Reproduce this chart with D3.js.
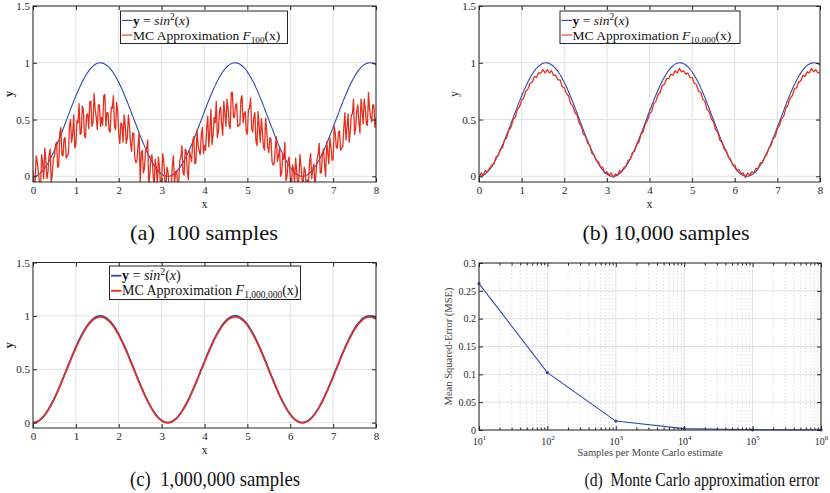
<!DOCTYPE html>
<html>
<head>
<meta charset="utf-8">
<script src="https://cdn.jsdelivr.net/npm/d3@7"></script>
<style>
  body { margin: 0; background: #fff; }
  svg { display: block; }
  text { font-family: "Liberation Serif", "Times New Roman", serif; }
</style>
</head>
<body>
<svg id="svg" width="830" height="493"></svg>
<script>
let xTicks = [0, 1, 2, 3, 4, 5, 6, 7, 8];
let yTicks = [0, 0.5, 1, 1.5];

// y = sin^2(x), read at x = 0, 0.05, ..., 8
let sinSq = [0, .003, .010, .022, .040, .061, .087, .118, .152, .189, .230, .273, .319, .366, .415, .465, .515, .565, .614, .662,
  .708, .752, .794, .833, .869, .901, .929, .952, .971, .985, .995, 1.000, .999, .994, .983, .968, .948, .924, .896, .863,
  .827, .788, .745, .700, .654, .605, .556, .506, .456, .407, .358, .311, .266, .223, .183, .146, .112, .083, .057, .036,
  .020, .008, .002, .000, .003, .012, .025, .043, .065, .092, .123, .158, .196, .237, .281, .327, .374, .423, .473, .523,
  .573, .622, .670, .716, .760, .801, .839, .874, .906, .933, .956, .974, .988, .996, 1.000, .999, .992, .981, .965, .945,
  .920, .890, .857, .821, .781, .738, .693, .646, .597, .548, .498, .448, .399, .350, .303, .258, .216, .176, .140, .107,
  .078, .053, .033, .018, .007, .001, .000, .005, .014, .028, .046, .070, .097, .129, .164, .203, .244, .288, .335, .383,
  .432, .482, .531, .581, .630, .678, .723, .767, .808, .845, .880, .911, .937, .959, .977, .989, .997, 1.000, .998, .991, .979];

// MC approximation with 100 samples, read at x = 0, 0.025, ..., 8
let mc100 = [0.05, -0.10, -0.04, 0.18, 0.13, 0.03, -0.05, -0.12, 0.19, 0.12, -0.02, 0.25, 0.14, -0.02, 0.04, 0.19,
  0.24, -0.06, 0.02, 0.16, 0.18, 0.28, 0.30, 0.08, 0.09, 0.38, 0.43, 0.19, 0.18, 0.33, 0.34, 0.16,
  0.18, 0.20, 0.44, 0.50, 0.30, 0.37, 0.54, 0.25, 0.28, 0.49, 0.47, 0.64, 0.37, 0.38, 0.62, 0.59,
  0.36, 0.34, 0.54, 0.55, 0.42, 0.66, 0.66, 0.44, 0.47, 0.73, 0.59, 0.52, 0.41, 0.63, 0.63, 0.44,
  0.52, 0.45, 0.71, 0.72, 0.44, 0.56, 0.56, 0.40, 0.39, 0.61, 0.60, 0.71, 0.44, 0.41, 0.65, 0.58,
  0.37, 0.29, 0.47, 0.46, 0.30, 0.54, 0.46, 0.29, 0.34, 0.54, 0.45, 0.29, 0.22, 0.38, 0.38, 0.16,
  0.12, 0.14, 0.27, 0.38, -0.06, 0.21, 0.23, 0.03, 0.07, 0.23, 0.24, 0.32, -0.07, 0.02, 0.17, 0.19,
  0.03, -0.10, 0.15, 0.08, -0.07, 0.17, 0.08, -0.08, -0.03, 0.20, 0.13, -0.03, -0.09, 0.08, 0.04, -0.11,
  -0.06, -0.10, 0.10, 0.18, -0.07, 0.04, 0.05, -0.10, -0.05, 0.14, 0.17, 0.27, 0.03, 0.01, 0.24, 0.22,
  0.03, -0.03, 0.22, 0.18, 0.13, 0.31, 0.35, 0.11, 0.12, 0.41, 0.28, 0.22, 0.19, 0.36, 0.43, 0.20,
  0.27, 0.23, 0.42, 0.53, 0.26, 0.40, 0.59, 0.28, 0.36, 0.52, 0.47, 0.66, 0.34, 0.40, 0.58, 0.61,
  0.46, 0.36, 0.66, 0.56, 0.44, 0.68, 0.60, 0.45, 0.42, 0.74, 0.74, 0.52, 0.52, 0.63, 0.64, 0.44,
  0.45, 0.45, 0.68, 0.71, 0.47, 0.55, 0.57, 0.39, 0.37, 0.59, 0.60, 0.69, 0.42, 0.39, 0.52, 0.56,
  0.31, 0.27, 0.57, 0.44, 0.30, 0.51, 0.40, 0.26, 0.23, 0.51, 0.41, 0.26, 0.21, 0.34, 0.33, 0.13,
  0.10, 0.11, 0.25, 0.35, 0.13, 0.18, 0.25, 0.00, 0.03, 0.20, 0.15, 0.30, -0.04, 0.00, 0.14, 0.17,
  -0.01, -0.12, 0.10, 0.07, -0.06, 0.16, 0.05, -0.09, -0.03, 0.19, 0.09, -0.03, -0.07, 0.08, 0.05, -0.11,
  -0.03, -0.09, 0.12, 0.20, -0.02, 0.06, 0.11, -0.09, 0.02, 0.15, 0.19, 0.29, 0.03, 0.03, 0.20, 0.24,
  0.11, 0.00, 0.30, 0.21, 0.11, 0.34, 0.26, 0.14, 0.15, 0.44, 0.38, 0.25, 0.25, 0.39, 0.40, 0.23,
  0.25, 0.26, 0.43, 0.56, 0.32, 0.43, 0.55, 0.30, 0.39, 0.54, 0.55, 0.68, 0.37, 0.42, 0.57, 0.63,
  0.48, 0.38, 0.68, 0.58, 0.46, 0.68, 0.60, 0.46, 0.45, 0.74, 0.59, 0.52, 0.48, 0.63, 0.63, 0.43, 0.51];

// MC approximation with 10,000 samples, read at x = 0, 0.05, ..., 8
let mc10k = [-0.01, 0.03, 0.01, 0.05, 0.04, 0.07, 0.10, 0.11, 0.17, 0.18, 0.24, 0.25, 0.32, 0.34, 0.41, 0.43, 0.50, 0.52, 0.59, 0.61,
  0.67, 0.69, 0.75, 0.77, 0.82, 0.83, 0.88, 0.87, 0.91, 0.91, 0.94, 0.91, 0.94, 0.91, 0.93, 0.89, 0.89, 0.85, 0.85, 0.79,
  0.78, 0.73, 0.71, 0.64, 0.62, 0.56, 0.54, 0.47, 0.44, 0.37, 0.35, 0.29, 0.27, 0.20, 0.19, 0.14, 0.13, 0.08, 0.08, 0.03,
  0.04, 0.01, 0.03, -0.01, 0.02, 0.01, 0.05, 0.04, 0.08, 0.09, 0.14, 0.15, 0.21, 0.22, 0.28, 0.30, 0.37, 0.39, 0.46, 0.49,
  0.55, 0.57, 0.64, 0.66, 0.72, 0.74, 0.80, 0.81, 0.86, 0.86, 0.90, 0.89, 0.93, 0.91, 0.95, 0.92, 0.93, 0.90, 0.91, 0.87,
  0.87, 0.82, 0.81, 0.75, 0.74, 0.68, 0.66, 0.59, 0.57, 0.51, 0.48, 0.41, 0.39, 0.32, 0.30, 0.24, 0.23, 0.17, 0.15, 0.10,
  0.10, 0.05, 0.06, 0.02, 0.03, -0.01, 0.03, 0.01, 0.04, 0.03, 0.07, 0.07, 0.12, 0.12, 0.17, 0.19, 0.25, 0.27, 0.33, 0.35,
  0.42, 0.45, 0.51, 0.53, 0.60, 0.63, 0.69, 0.71, 0.77, 0.78, 0.83, 0.84, 0.89, 0.88, 0.92, 0.91, 0.95, 0.92, 0.94, 0.91, 0.92];

// MC approximation with 1,000,000 samples, read at x = 0, 0.05, ..., 8
let mc1m = [0, .003, .010, .022, .040, .060, .086, .117, .150, .187, .228, .270, .316, .362, .411, .460, .510, .559, .608, .655,
  .701, .744, .786, .825, .860, .892, .920, .942, .961, .975, .985, .990, .989, .984, .973, .958, .939, .915, .887, .854,
  .819, .780, .738, .693, .647, .599, .550, .501, .451, .403, .354, .308, .263, .221, .181, .145, .111, .082, .056, .036,
  .020, .008, .002, .000, .003, .012, .025, .043, .064, .091, .122, .156, .194, .235, .278, .324, .370, .419, .468, .518,
  .567, .616, .663, .709, .752, .793, .831, .865, .897, .924, .946, .964, .978, .986, .990, .989, .982, .971, .955, .936,
  .911, .881, .848, .813, .773, .731, .686, .640, .591, .543, .493, .444, .395, .347, .300, .255, .214, .174, .139, .106,
  .077, .052, .033, .018, .007, .001, .000, .005, .014, .028, .046, .069, .096, .128, .162, .201, .242, .285, .332, .379,
  .428, .477, .526, .575, .624, .671, .716, .759, .800, .837, .871, .902, .928, .949, .967, .979, .987, .990, .988, .981, .969];

// error plot
let sampleSizes = [1e1, 1e2, 1e3, 1e4, 1e5, 1e6];
let mseValues = [0.263, 0.103, 0.016, 0.0025, 0.0004, 0.0001];
let mseTicks = [0, 0.05, 0.1, 0.15, 0.2, 0.25, 0.3];

let captions = ["(a)  100 samples", "(b) 10,000 samples", "(c)  1,000,000 samples", "(d)  Monte Carlo approximation error"];
let subLabels = ["100", "10,000", "1,000,000"];

let blue = "#3049b0";
let red = "#e5301f";
let gridColor = "#e1e1e1";
let frameColor = "#262626";

let svg = d3.select("#svg");
svg.append("rect").attr("width", 830).attr("height", 493).attr("fill", "#fff");

// pair each value with its x position on an even grid from 0 to 8
function toPoints(arr) {
  let step = 8 / (arr.length - 1);
  return arr.map(function(v, i) { return [i * step, v]; });
}

function drawPanel(p) {
  let x = d3.scaleLinear().domain([0, 8]).range([p.x1, p.x2]);
  let y = d3.scaleLinear().domain([-0.05, 1.5]).range([p.y2, p.y1]);
  let g = svg.append("g");

  // grid
  g.selectAll(".gx").data(xTicks).enter().append("line")
    .attr("x1", d => x(d)).attr("x2", d => x(d)).attr("y1", p.y1).attr("y2", p.y2)
    .attr("stroke", gridColor).attr("stroke-width", 1);
  g.selectAll(".gy").data(yTicks).enter().append("line")
    .attr("x1", p.x1).attr("x2", p.x2).attr("y1", d => y(d)).attr("y2", d => y(d))
    .attr("stroke", gridColor).attr("stroke-width", 1);

  g.append("clipPath").attr("id", "clip" + p.id)
    .append("rect").attr("x", p.x1).attr("y", p.y1).attr("width", p.x2 - p.x1).attr("height", p.y2 - p.y1);

  let plot = g.append("g").attr("clip-path", "url(#clip" + p.id + ")");
  plot.append("path").attr("d", d3.line().x(d => x(d[0])).y(d => y(d[1])).curve(d3.curveMonotoneX)(toPoints(sinSq)))
    .attr("fill", "none").attr("stroke", blue).attr("stroke-width", p.lw);
  plot.append("path").attr("d", d3.line().x(d => x(d[0])).y(d => y(d[1]))
      .curve(p.smooth ? d3.curveMonotoneX : d3.curveLinear)(toPoints(p.mc)))
    .attr("fill", "none").attr("stroke", red).attr("stroke-width", p.rw).attr("stroke-linejoin", "round");

  // axes with inward ticks on all four sides
  g.append("g").attr("transform", "translate(0," + p.y2 + ")")
    .call(d3.axisBottom(x).tickValues(xTicks).tickSize(-4).tickPadding(4).tickFormat(d3.format("d")));
  g.append("g").attr("transform", "translate(0," + p.y1 + ")")
    .call(d3.axisTop(x).tickValues(xTicks).tickSize(-4).tickFormat(""));
  g.append("g").attr("transform", "translate(" + p.x1 + ",0)")
    .call(d3.axisLeft(y).tickValues(yTicks).tickSize(-4).tickPadding(3).tickFormat(d => d));
  g.append("g").attr("transform", "translate(" + p.x2 + ",0)")
    .call(d3.axisRight(y).tickValues(yTicks).tickSize(-4).tickFormat(""));
  g.selectAll(".domain").remove();
  g.selectAll(".tick line").attr("stroke", frameColor);
  g.selectAll(".tick text").attr("font-family", "Liberation Serif").attr("font-size", 11).attr("fill", "#262626");

  g.append("rect").attr("x", p.x1).attr("y", p.y1).attr("width", p.x2 - p.x1).attr("height", p.y2 - p.y1)
    .attr("fill", "none").attr("stroke", frameColor).attr("stroke-width", 1);

  // axis labels
  g.append("text").attr("x", (p.x1 + p.x2) / 2).attr("y", p.y2 + 26).attr("text-anchor", "middle")
    .attr("font-size", 12).attr("fill", "#262626").text("x");
  g.append("text").attr("transform", "translate(" + p.ylx + "," + ((p.y1 + p.y2) / 2) + ") rotate(-90)")
    .attr("text-anchor", "middle").attr("font-size", 12).attr("font-weight", p.boldY ? "bold" : "normal")
    .attr("fill", "#262626").text("y");

  // legend
  let L = p.legend;
  let lg = g.append("g");
  lg.append("rect").attr("x", L.x).attr("y", L.y).attr("width", L.w).attr("height", L.h)
    .attr("fill", "#fff").attr("stroke", frameColor).attr("stroke-width", 1);
  let rows = [{ c: blue, dy: L.h * 0.29 }, { c: red, dy: L.h * 0.74 }];
  lg.selectAll(".ls").data(rows).enter().append("line")
    .attr("x1", L.x + 1.5).attr("x2", L.x + 12).attr("y1", d => L.y + d.dy).attr("y2", d => L.y + d.dy)
    .attr("stroke", d => d.c).attr("stroke-width", p.lw);
  let t1 = lg.append("text").attr("x", L.x + 12.5).attr("y", L.y + rows[0].dy + 4.5)
    .attr("font-size", L.fs).attr("fill", "#111");
  t1.append("tspan").attr("font-weight", "bold").text("y");
  t1.append("tspan").text(" = ");
  t1.append("tspan").attr("font-style", "italic").text("sin");
  t1.append("tspan").attr("font-size", L.fs * 0.7).attr("dy", -5).text("2");
  t1.append("tspan").attr("dy", 5).text("(");
  t1.append("tspan").attr("font-style", "italic").text("x");
  t1.append("tspan").text(")");
  let t2 = lg.append("text").attr("x", L.x + 12.5).attr("y", L.y + rows[1].dy + 4.5)
    .attr("font-size", L.fs).attr("fill", "#111");
  t2.append("tspan").text("MC Approximation ");
  t2.append("tspan").attr("font-style", "italic").text("F");
  t2.append("tspan").attr("font-size", L.fs * 0.68).attr("dy", 3).text(p.sub);
  t2.append("tspan").attr("dy", -3).text("(x)");
}

drawPanel({ id: "a", x1: 33, x2: 376, y1: 6, y2: 182, mc: mc100, lw: 1.1, rw: 1.3, smooth: false,
  sub: subLabels[0], ylx: 13, boldY: true, legend: { x: 120.5, y: 11, w: 167, h: 32.5, fs: 13.5 } });
drawPanel({ id: "b", x1: 479, x2: 820, y1: 6, y2: 182, mc: mc10k, lw: 1.1, rw: 1.3, smooth: false,
  sub: subLabels[1], ylx: 458, boldY: false, legend: { x: 560, y: 11, w: 180, h: 32.5, fs: 13.5 } });
drawPanel({ id: "c", x1: 33, x2: 376, y1: 262.5, y2: 428, mc: mc1m, lw: 1.8, rw: 1.6, smooth: true,
  sub: subLabels[2], ylx: 13, boldY: true, legend: { x: 109.5, y: 266, w: 191, h: 33.5, fs: 14 } });

// panel d: error against samples, log x
(function() {
  let p = { x1: 479, x2: 821, y1: 263, y2: 430 };
  let x = d3.scaleLog().domain([10, 1e6]).range([p.x1, p.x2]);
  let y = d3.scaleLinear().domain([0, 0.3]).range([p.y2, p.y1]);
  let g = svg.append("g");

  let minor = [];
  for (let k = 1; k < 6; ++k)
    for (let m = 2; m < 10; ++m) minor.push(m * Math.pow(10, k));

  g.selectAll(".mg").data(minor).enter().append("line")
    .attr("x1", d => x(d)).attr("x2", d => x(d)).attr("y1", p.y1).attr("y2", p.y2)
    .attr("stroke", "#d4d4d4").attr("stroke-dasharray", "1.5,2").attr("stroke-width", 0.8);
  g.selectAll(".gx").data(sampleSizes).enter().append("line")
    .attr("x1", d => x(d)).attr("x2", d => x(d)).attr("y1", p.y1).attr("y2", p.y2)
    .attr("stroke", gridColor);
  g.selectAll(".gy").data(mseTicks).enter().append("line")
    .attr("x1", p.x1).attr("x2", p.x2).attr("y1", d => y(d)).attr("y2", d => y(d))
    .attr("stroke", gridColor);

  let pts = sampleSizes.map((s, i) => [s, mseValues[i]]);
  g.append("path").attr("d", d3.line().x(d => x(d[0])).y(d => y(d[1]))(pts))
    .attr("fill", "none").attr("stroke", blue).attr("stroke-width", 1.1);
  g.selectAll(".pt").data(pts).enter().append("circle")
    .attr("cx", d => x(d[0])).attr("cy", d => y(d[1])).attr("r", 1.6).attr("fill", blue);

  // ticks
  g.append("g").attr("transform", "translate(0," + p.y2 + ")")
    .call(d3.axisBottom(x).tickValues(minor).tickSize(-2.5).tickFormat(""));
  g.append("g").attr("transform", "translate(0," + p.y1 + ")")
    .call(d3.axisTop(x).tickValues(minor).tickSize(-2.5).tickFormat(""));
  let bx = g.append("g").attr("transform", "translate(0," + p.y2 + ")")
    .call(d3.axisBottom(x).tickValues(sampleSizes).tickSize(-4).tickFormat(""));
  g.append("g").attr("transform", "translate(0," + p.y1 + ")")
    .call(d3.axisTop(x).tickValues(sampleSizes).tickSize(-4).tickFormat(""));
  g.append("g").attr("transform", "translate(" + p.x1 + ",0)")
    .call(d3.axisLeft(y).tickValues(mseTicks).tickSize(-4).tickPadding(3).tickFormat(d => d));
  g.append("g").attr("transform", "translate(" + p.x2 + ",0)")
    .call(d3.axisRight(y).tickValues(mseTicks).tickSize(-4).tickFormat(""));
  g.selectAll(".domain").remove();
  g.selectAll(".tick line").attr("stroke", frameColor);
  g.selectAll(".tick text").attr("font-family", "Liberation Sans, Arial, sans-serif").attr("font-size", 10).attr("fill", "#262626");

  // powers of ten under the axis
  bx.selectAll(".tick").each(function(d) {
    let t = d3.select(this).append("text").attr("y", 15).attr("text-anchor", "middle")
      .attr("font-family", "Liberation Sans, Arial, sans-serif").attr("font-size", 10).attr("fill", "#262626");
    t.append("tspan").text("10");
    t.append("tspan").attr("font-size", 7).attr("dy", -5).text(Math.round(Math.log10(d)));
  });

  g.append("rect").attr("x", p.x1).attr("y", p.y1).attr("width", p.x2 - p.x1).attr("height", p.y2 - p.y1)
    .attr("fill", "none").attr("stroke", frameColor).attr("stroke-width", 1);

  g.append("text").attr("x", (p.x1 + p.x2) / 2).attr("y", p.y2 + 26).attr("text-anchor", "middle")
    .attr("font-size", 10.5).attr("fill", "#444").text("Samples per Monte Carlo estimate");
  g.append("text").attr("transform", "translate(452," + ((p.y1 + p.y2) / 2) + ") rotate(-90)")
    .attr("text-anchor", "middle").attr("font-size", 10.5).attr("fill", "#444").text("Mean Squared-Error (MSE)");
})();

// sub-figure captions, squeezed to the widths seen in the reference
let capPos = [[204, 240, 148, 22], [666, 240, 167, 22], [215, 486, 170, 22], [702, 486, 235, 19]];
svg.selectAll(".cap").data(captions).enter().append("text")
  .attr("x", (d, i) => capPos[i][0]).attr("y", (d, i) => capPos[i][1])
  .attr("text-anchor", "middle").attr("font-size", (d, i) => capPos[i][3]).attr("fill", "#111")
  .attr("textLength", (d, i) => capPos[i][2]).attr("lengthAdjust", "spacingAndGlyphs")
  .style("white-space", "pre").text(d => d);
</script>
</body>
</html>
